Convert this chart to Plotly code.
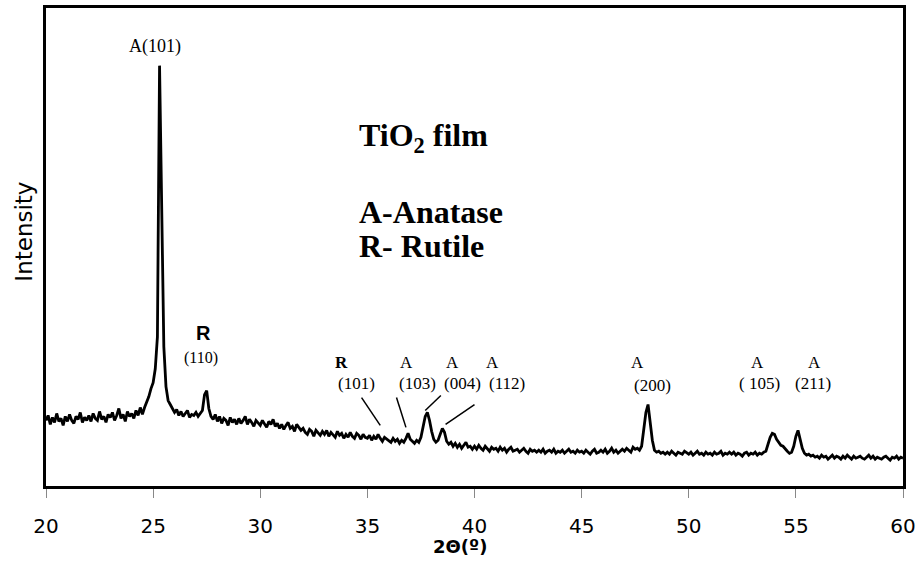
import numpy as np
import plotly.graph_objects as go

# 2-theta grid (degrees), step 0.1
two_theta = np.round(np.arange(20.0, 60.0001, 0.1), 1)

# Intensity (arbitrary units), one row per degree
intensity = (
    [66, 71, 62, 69, 64, 73, 65, 68, 61, 70] +          # 20
    [65, 72, 66, 63, 70, 67, 74, 64, 69, 66] +          # 21
    [71, 65, 73, 68, 66, 75, 67, 70, 64, 72] +          # 22
    [69, 74, 66, 71, 78, 68, 72, 65, 75, 70] +          # 23
    [73, 68, 76, 71, 79, 72, 79, 84, 90, 98] +          # 24
    [104, 118, 150, 423, 300, 140, 100, 86, 82, 78] +   # 25
    [74, 77, 71, 75, 70, 73, 76, 69, 72, 71] +          # 26
    [74, 70, 73, 76, 92, 96, 78, 70, 67, 72] +          # 27
    [65, 70, 63, 68, 66, 61, 69, 64, 67, 62] +          # 28
    [68, 63, 66, 70, 62, 67, 64, 60, 66, 63] +          # 29
    [61, 66, 63, 59, 65, 62, 67, 60, 63, 58] +          # 30
    [62, 57, 61, 64, 58, 60, 55, 62, 59, 56] +          # 31
    [58, 54, 52, 57, 55, 50, 56, 53, 51, 55] +          # 32
    [52, 56, 50, 54, 52, 49, 55, 51, 53, 48] +          # 33
    [52, 49, 54, 50, 48, 53, 51, 47, 52, 49] +          # 34
    [48, 51, 46, 50, 47, 52, 48, 45, 49, 47] +          # 35
    [46, 44, 48, 45, 47, 43, 46, 44, 48, 53] +          # 36
    [47, 45, 43, 46, 44, 49, 58, 70, 74, 66] +          # 37
    [55, 47, 44, 46, 52, 58, 54, 45, 42, 44] +          # 38
    [40, 43, 39, 42, 38, 41, 44, 39, 40, 37] +          # 39
    [40, 37, 41, 38, 36, 40, 38, 35, 39, 37] +          # 40
    [38, 35, 39, 36, 38, 34, 37, 39, 35, 36] +          # 41
    [37, 34, 36, 38, 35, 33, 37, 35, 36, 34] +          # 42
    [36, 34, 37, 33, 35, 36, 34, 37, 33, 35] +          # 43
    [34, 36, 33, 35, 37, 34, 35, 33, 36, 34] +          # 44
    [35, 33, 36, 34, 32, 35, 37, 33, 34, 36] +          # 45
    [34, 37, 33, 35, 38, 34, 36, 33, 35, 37] +          # 46
    [35, 38, 36, 34, 39, 37, 38, 36, 40, 55] +          # 47
    [74, 82, 66, 46, 36, 34, 35, 33, 34, 32] +          # 48
    [34, 32, 35, 33, 31, 34, 33, 32, 35, 33] +          # 49
    [32, 34, 31, 33, 35, 32, 33, 31, 34, 32] +          # 50
    [33, 31, 34, 32, 33, 35, 31, 33, 32, 34] +          # 51
    [32, 34, 31, 33, 32, 30, 33, 34, 31, 33] +          # 52
    [32, 34, 31, 33, 32, 34, 35, 42, 49, 53] +          # 53
    [52, 47, 44, 41, 40, 37, 35, 33, 34, 40] +          # 54
    [50, 56, 47, 38, 33, 31, 32, 30, 31, 29] +          # 55
    [30, 28, 31, 29, 30, 27, 29, 31, 28, 30] +          # 56
    [29, 27, 30, 28, 31, 29, 27, 30, 28, 29] +          # 57
    [30, 28, 27, 29, 31, 28, 30, 27, 29, 28] +          # 58
    [27, 29, 30, 28, 26, 29, 28, 30, 27, 29] +          # 59
    [28]                                                # 60
)

x_ticks = [20, 25, 30, 35, 40, 45, 50, 55, 60]

# Peak labels: (text, x, y, size)
peak_labels = [
    ("A(101)", 25.08, 442, 18),
    ("<b>R</b>", 33.78, 124, 17),
    ("(101)", 34.48, 103, 17),
    ("A", 36.81, 124, 17),
    ("(103)", 37.32, 103, 17),
    ("A", 38.95, 124, 17),
    ("(004)", 39.46, 103, 17),
    ("A", 40.82, 124, 17),
    ("(112)", 41.51, 103, 17),
    ("A", 47.61, 124, 17),
    ("(200)", 48.31, 101, 17),
    ("A", 53.20, 124, 17),
    ("( 105)", 53.29, 103, 17),
    ("A", 55.86, 124, 17),
    ("(211)", 55.81, 103, 17),
    ("(110)", 27.22, 129, 16),
]

# Leader lines: (x0, y0, x1, y1)
leaders = [
    (34.73, 89, 35.60, 61),
    (36.36, 89, 36.80, 59),
    (38.43, 91, 37.70, 76),
    (40.00, 82, 38.65, 62),
]

fig = go.Figure()
fig.add_trace(go.Scatter(
    x=two_theta, y=intensity, mode="lines",
    line=dict(color="black", width=2.8), showlegend=False,
))

serif = "Liberation Serif, Times New Roman, serif"
for text, x, y, size in peak_labels:
    fig.add_annotation(x=x, y=y, text=text, showarrow=False,
                       font=dict(family=serif, size=size, color="black"))

fig.add_annotation(x=27.36, y=154, text="<b>R</b>", showarrow=False,
                   font=dict(family="Liberation Sans, Arial, sans-serif", size=20, color="black"))

for txt, y in [("<b>TiO<sub>2</sub> film</b>", 351), ("<b>A-Anatase</b>", 276), ("<b>R- Rutile</b>", 242)]:
    fig.add_annotation(x=34.53, y=y, text=txt, showarrow=False, xanchor="left",
                       font=dict(family=serif, size=32, color="black"))

for x0, y0, x1, y1 in leaders:
    fig.add_shape(type="line", x0=x0, y0=y0, x1=x1, y1=y1,
                  line=dict(color="black", width=1.5))

# Axis titles
fig.add_annotation(xref="paper", yref="paper", x=(24 - 46) / 859, y=(486 - 230) / 481,
                   xanchor="center", yanchor="middle",
                   text="Intensity", textangle=-90, showarrow=False,
                   font=dict(family="DejaVu Sans, sans-serif", size=23, color="black"))
fig.add_annotation(xref="paper", yref="paper", x=(461 - 46) / 859, y=-(547 - 486) / 481,
                   xanchor="center", yanchor="middle",
                   text="<b>2Θ(º)</b>", showarrow=False,
                   font=dict(family="DejaVu Sans, sans-serif", size=18, color="black"))

fig.update_layout(
    width=921, height=565,
    margin=dict(l=46, r=16, t=5, b=79),
    paper_bgcolor="white", plot_bgcolor="white",
    xaxis=dict(range=[20, 60], tickvals=x_ticks, ticktext=[str(v) for v in x_ticks],
               showgrid=False, zeroline=False, showline=True, mirror=True,
               linecolor="black", linewidth=3, ticks="outside", ticklen=9,
               tickwidth=1, tickcolor="#888888", ticklabelstandoff=11,
               tickfont=dict(family="DejaVu Sans, sans-serif", size=20, color="black")),
    yaxis=dict(range=[0, 481], showgrid=False, zeroline=False, showline=True,
               mirror=True, linecolor="black", linewidth=3, showticklabels=False,
               ticks=""),
)

fig.write_html("out.html")
